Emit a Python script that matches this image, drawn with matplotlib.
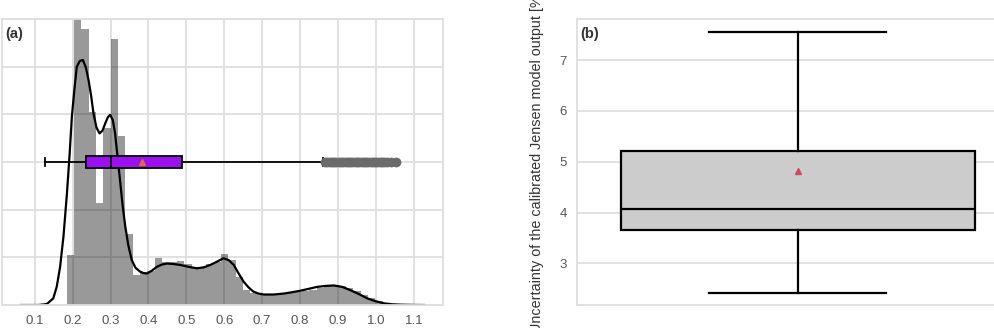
import numpy as np
import matplotlib
matplotlib.use('Agg')
import matplotlib.pyplot as plt

# (a) histogram of the relative uncertainty (density), bins of equal width
hist_start = 0.184
hist_width = 0.0194
hist_heights = [1.05, 6.40, 5.80, 4.05, 2.13, 3.71, 5.59, 3.55, 1.50, 0.63,
                0.70, 0.72, 0.98, 0.91, 0.90, 0.92, 0.85, 0.80, 0.80, 0.86,
                0.90, 1.08, 0.94, 0.58, 0.32, 0.25, 0.22, 0.22, 0.23, 0.24,
                0.25, 0.27, 0.29, 0.32, 0.36, 0.40, 0.42, 0.40, 0.36, 0.30,
                0.22, 0.14, 0.08, 0.04, 0.02, 0.01]

# kde curve
kde_x = [0.063, 0.110, 0.132, 0.149, 0.158, 0.167, 0.176, 0.185, 0.192, 0.198,
         0.205, 0.211, 0.219, 0.227, 0.235, 0.242, 0.249, 0.255, 0.263, 0.271,
         0.279, 0.286, 0.293, 0.299, 0.306, 0.312, 0.318, 0.325, 0.332, 0.339,
         0.347, 0.356, 0.366, 0.378, 0.387, 0.396, 0.409, 0.422, 0.436, 0.449,
         0.466, 0.484, 0.506, 0.528, 0.546, 0.563, 0.581, 0.598, 0.612, 0.625,
         0.638, 0.651, 0.664, 0.677, 0.690, 0.704, 0.730, 0.757, 0.780, 0.801,
         0.823, 0.845, 0.867, 0.889, 0.911, 0.933, 0.955, 0.977, 0.999, 1.021,
         1.043, 1.065, 1.095, 1.126]
kde_y = [0.0, 0.0, 0.02, 0.14, 0.38, 0.80, 1.45, 2.34, 3.15, 3.95,
         4.55, 5.00, 5.12, 5.14, 4.98, 4.72, 4.38, 4.02, 3.72, 3.60,
         3.66, 3.81, 3.94, 3.99, 3.88, 3.60, 3.15, 2.62, 2.08, 1.64,
         1.25, 0.94, 0.78, 0.70, 0.67, 0.66, 0.72, 0.80, 0.85, 0.87,
         0.86, 0.84, 0.80, 0.77, 0.79, 0.84, 0.91, 0.98, 0.94, 0.84,
         0.66, 0.49, 0.37, 0.28, 0.24, 0.22, 0.22, 0.24, 0.27, 0.30,
         0.34, 0.38, 0.40, 0.41, 0.38, 0.31, 0.23, 0.14, 0.08, 0.035,
         0.015, 0.007, 0.002, 0.0]

# (a) boxplot statistics
a_whislo, a_q1, a_med, a_q3, a_whishi, a_mean = 0.127, 0.235, 0.300, 0.488, 0.860, 0.384
a_fliers = [0.866, 0.872, 0.878, 0.884, 0.890, 0.896, 0.902, 0.908, 0.914, 0.920,
            0.926, 0.932, 0.938, 0.944, 0.950, 0.956, 0.962, 0.968, 0.974, 0.980,
            0.986, 0.992, 0.998, 1.004, 1.010, 1.016, 1.022, 1.028, 1.039, 1.052]

# (b) boxplot statistics [%]
b_whislo, b_q1, b_med, b_q3, b_whishi, b_mean = 2.41, 3.665, 4.06, 5.22, 7.545, 4.82

plt.rcParams['font.family'] = ['Liberation Sans', 'DejaVu Sans']

grid_c = '#dedede'
tick_c = '#555555'

fig = plt.figure(figsize=(9.94, 3.28), dpi=100)
ax1 = fig.add_axes([0.002, 0.0701, 0.4437, 0.872])
ax2 = fig.add_axes([0.580, 0.0701, 0.445, 0.872])

for ax in (ax1, ax2):
    ax.set_axisbelow(True)
    for s in ax.spines.values():
        s.set_color(grid_c)
        s.set_linewidth(1.3)
    ax.tick_params(length=0, labelsize=9.5, labelcolor=tick_c, pad=7)

# ---- (a)
edges = hist_start + hist_width * np.arange(len(hist_heights))
ax1.bar(edges, hist_heights, width=hist_width, align='edge', color='k', alpha=0.4,
        linewidth=0)
ax1.plot(kde_x, kde_y, color='k', lw=1.6)

stats_a = [dict(whislo=a_whislo, q1=a_q1, med=a_med, q3=a_q3, whishi=a_whishi,
                mean=a_mean, fliers=a_fliers)]
ax1.bxp(stats_a, positions=[3], widths=0.27, vert=False, patch_artist=True,
        showmeans=True, capwidths=0.17,
        boxprops=dict(facecolor='#9a10ee', edgecolor='k', linewidth=1.3),
        medianprops=dict(color='k', linewidth=1.3),
        whiskerprops=dict(color='k', linewidth=1.3),
        capprops=dict(color='k', linewidth=1.3),
        meanprops=dict(marker='^', markerfacecolor='#e0664e', markeredgecolor='#e0664e',
                       markersize=5),
        flierprops=dict(marker='o', markerfacecolor='#6b6b6b', markeredgecolor='#6b6b6b',
                        markersize=6))

ax1.set_xlim(0.0137, 1.177)
ax1.set_ylim(0, 6)
ax1.set_xticks([0.1, 0.2, 0.3, 0.4, 0.5, 0.6, 0.7, 0.8, 0.9, 1.0, 1.1])
ax1.set_xticklabels(['0.1', '0.2', '0.3', '0.4', '0.5', '0.6', '0.7', '0.8', '0.9', '1.0', '1.1'])
ax1.set_yticks([0, 1, 2, 3, 4, 5, 6])
ax1.set_yticklabels([])
ax1.grid(True, color=grid_c, linewidth=1.3)
ax1.text(0.007, 0.947, '(a)', transform=ax1.transAxes, fontsize=10.5, fontweight='bold',
         color='#333333', ha='left', va='center')

# ---- (b)
stats_b = [dict(whislo=b_whislo, q1=b_q1, med=b_med, q3=b_q3, whishi=b_whishi,
                mean=b_mean, fliers=[])]
ax2.bxp(stats_b, positions=[0], widths=0.8, patch_artist=True, showmeans=True,
        capwidths=0.4,
        boxprops=dict(facecolor='#cccccc', edgecolor='k', linewidth=1.6),
        medianprops=dict(color='k', linewidth=1.6),
        whiskerprops=dict(color='k', linewidth=1.6),
        capprops=dict(color='k', linewidth=1.6),
        meanprops=dict(marker='^', markerfacecolor='#cf4a5c', markeredgecolor='#cf4a5c',
                       markersize=5))
ax2.set_xlim(-0.5, 0.5)
ax2.set_ylim(2.18, 7.81)
ax2.set_xticks([])
ax2.set_yticks([3, 4, 5, 6, 7])
ax2.grid(True, axis='y', color=grid_c, linewidth=1.3)
ax2.grid(False, axis='x')
ax2.set_ylabel('Uncertainty of the calibrated Jensen model output [%]', fontsize=10.4,
               color='#333333', labelpad=11)
ax2.text(0.0075, 0.947, '(b)', transform=ax2.transAxes, fontsize=10.5, fontweight='bold',
         color='#333333', ha='left', va='center')

fig.savefig('out.png', dpi=100)
